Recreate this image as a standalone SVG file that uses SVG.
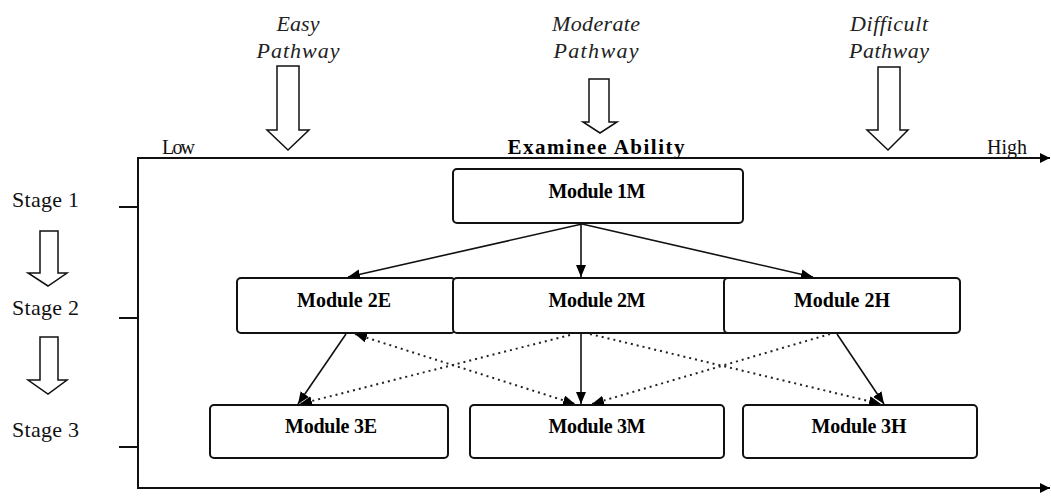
<svg xmlns="http://www.w3.org/2000/svg" width="1051" height="496" viewBox="0 0 1051 496">
  <defs>
    <marker id="ah" viewBox="0 0 12 10" refX="12" refY="5" markerWidth="12" markerHeight="10" orient="auto-start-reverse" markerUnits="userSpaceOnUse">
      <path d="M0,0 L12,5 L0,10 z" fill="#000"/>
    </marker>
    <marker id="axh" viewBox="0 0 10 10" refX="10" refY="5" markerWidth="10" markerHeight="10" orient="auto" markerUnits="userSpaceOnUse">
      <path d="M0,0 L10,5 L0,10 z" fill="#000"/>
    </marker>
    <style>
      .box { fill: #fff; stroke: #111; stroke-width: 2; }
      .mod { font-family: "Liberation Serif", "Times New Roman", serif; font-weight: bold; font-size: 20px; fill: #000; text-anchor: middle; }
      .stage { font-family: "Liberation Serif", "Times New Roman", serif; font-size: 22px; fill: #111; }
      .path { font-family: "Liberation Serif", "Times New Roman", serif; font-style: italic; font-size: 22px; fill: #222; text-anchor: middle; }
      .axl { font-family: "Liberation Serif", "Times New Roman", serif; font-size: 20px; fill: #111; }
      .big { fill: #fff; stroke: #111; stroke-width: 1.5; }
      .frame { fill: none; stroke: #111; stroke-width: 2; }
      .solid { stroke: #111; stroke-width: 1.6; fill: none; marker-end: url(#ah); }
      .dot { stroke: #222; stroke-width: 2; stroke-dasharray: 2 4; fill: none; marker-end: url(#ah); }
    </style>
  </defs>

  <rect width="1051" height="496" fill="#fff"/>

  <!-- pathway labels and arrows -->
  <g id="easy-pathway">
    <text class="path" x="298" y="31" textLength="43">Easy</text>
    <text class="path" x="298" y="58" textLength="83">Pathway</text>
    <polygon class="big" points="277,66 299,66 299,130 309,130 288,150 267,130 277,130"/>
  </g>
  <g id="moderate-pathway">
    <text class="path" x="596" y="31" textLength="88">Moderate</text>
    <text class="path" x="596" y="58" textLength="85">Pathway</text>
    <polygon class="big" points="589,79 609,79 609,122 617,122 600,133 583,122 589,122"/>
  </g>
  <g id="difficult-pathway">
    <text class="path" x="889" y="31" textLength="78">Difficult</text>
    <text class="path" x="889" y="58" textLength="80">Pathway</text>
    <polygon class="big" points="878,67 900,67 900,130 908,130 888,150 867,130 878,130"/>
  </g>

  <!-- frame / axes -->
  <g id="axes">
    <line class="frame" x1="138" y1="158" x2="1050" y2="158" marker-end="url(#axh)"/>
    <line class="frame" x1="138" y1="488" x2="1050" y2="488" marker-end="url(#axh)"/>
    <line class="frame" x1="138" y1="157" x2="138" y2="489"/>
    <line class="frame" x1="119" y1="207" x2="138" y2="207"/>
    <line class="frame" x1="119" y1="318" x2="138" y2="318"/>
    <line class="frame" x1="119" y1="447" x2="138" y2="447"/>
    <text class="axl" x="162" y="154" textLength="33">Low</text>
    <text class="axl" x="987" y="154" textLength="40">High</text>
    <text class="mod" x="596" y="154" textLength="177" style="font-size:21px">Examinee Ability</text>
  </g>

  <!-- stages -->
  <g id="stages">
    <text class="stage" x="12" y="207" textLength="67">Stage 1</text>
    <text class="stage" x="12" y="315" textLength="67">Stage 2</text>
    <text class="stage" x="12" y="437" textLength="67">Stage 3</text>
    <polygon class="big" points="40,231 58,231 58,273 67,273 48,286 28,273 40,273"/>
    <polygon class="big" points="40,337 58,337 58,380 67,380 48,394 28,380 40,380"/>
  </g>

  <!-- modules -->
  <g id="module-1M">
    <rect class="box" x="453" y="169" width="290" height="54" rx="4"/>
    <text class="mod" x="597" y="198" textLength="97">Module 1M</text>
  </g>
  <g id="module-2E">
    <rect class="box" x="237" y="278" width="218" height="55" rx="4"/>
    <text class="mod" x="344" y="307" textLength="94">Module 2E</text>
  </g>
  <g id="module-2M">
    <rect class="box" x="453" y="278" width="288" height="55" rx="4"/>
    <text class="mod" x="597" y="307" textLength="97">Module 2M</text>
  </g>
  <g id="module-2H">
    <rect class="box" x="724" y="278" width="236" height="55" rx="4"/>
    <text class="mod" x="842" y="307" textLength="96">Module 2H</text>
  </g>
  <g id="module-3E">
    <rect class="box" x="210" y="405" width="238" height="53" rx="4"/>
    <text class="mod" x="331" y="433" textLength="92">Module 3E</text>
  </g>
  <g id="module-3M">
    <rect class="box" x="470" y="405" width="254" height="53" rx="4"/>
    <text class="mod" x="597" y="433" textLength="97">Module 3M</text>
  </g>
  <g id="module-3H">
    <rect class="box" x="743" y="405" width="234" height="53" rx="4"/>
    <text class="mod" x="859" y="433" textLength="95">Module 3H</text>
  </g>

  <!-- connectors -->
  <g id="connectors">
    <line class="solid" x1="582" y1="224" x2="348" y2="277"/>
    <line class="solid" x1="581" y1="224" x2="581" y2="277"/>
    <line class="solid" x1="582" y1="224" x2="813" y2="277"/>

    <line class="solid" x1="346" y1="334" x2="298" y2="404"/>
    <line class="dot" x1="355" y1="334" x2="575" y2="404" marker-start="url(#ah)"/>
    <line class="dot" x1="570" y1="335" x2="300" y2="404"/>
    <line class="solid" x1="581" y1="334" x2="581" y2="404"/>
    <line class="dot" x1="590" y1="334" x2="881" y2="404"/>
    <line class="dot" x1="830" y1="334" x2="592" y2="404"/>
    <line class="solid" x1="837" y1="334" x2="884" y2="404"/>
  </g>
</svg>
